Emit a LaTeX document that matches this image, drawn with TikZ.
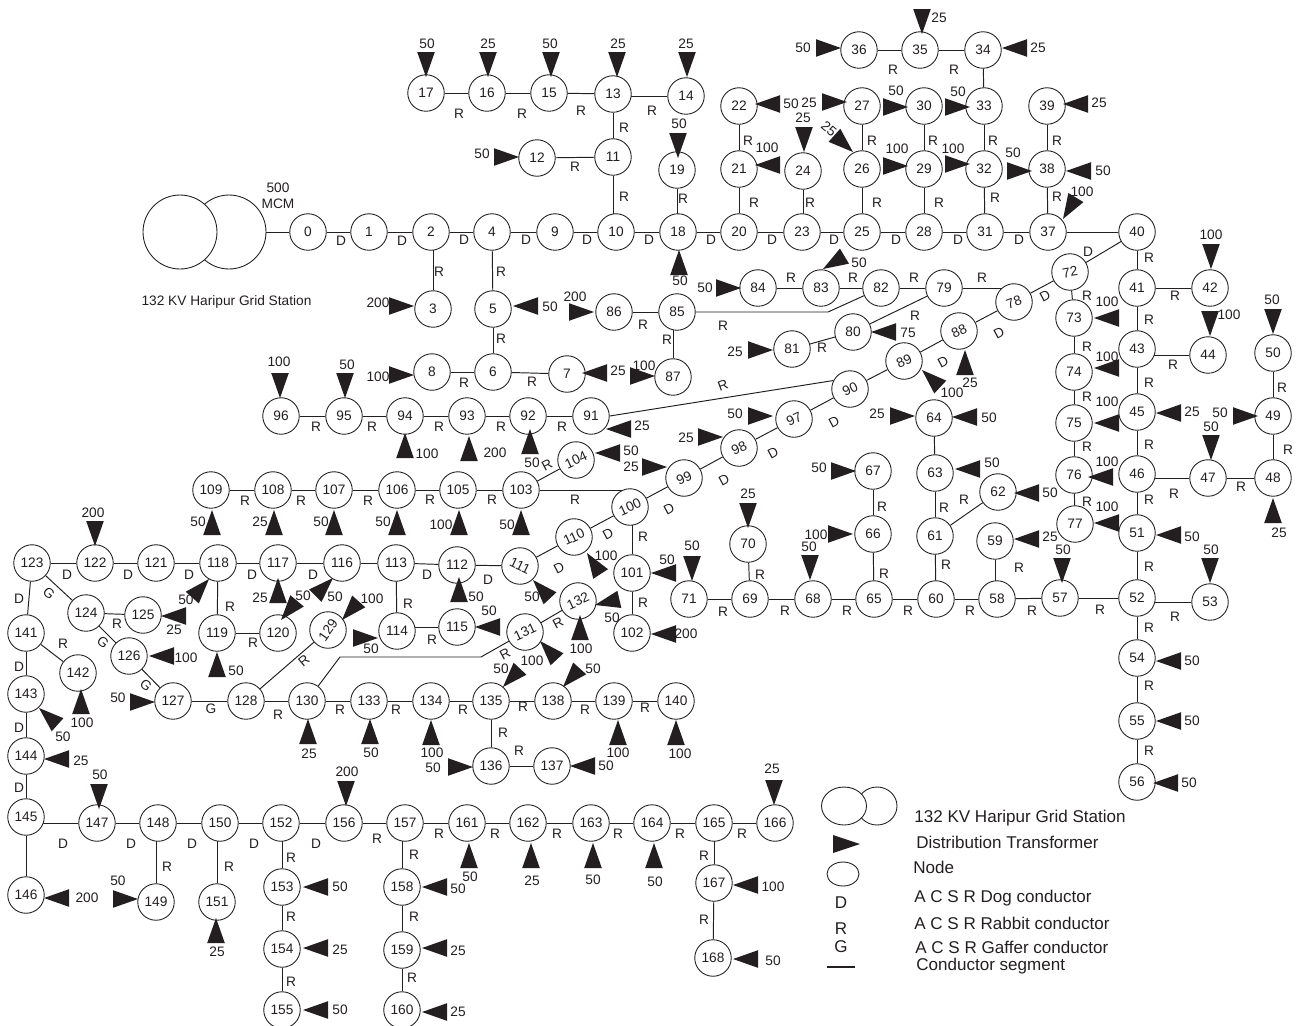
\documentclass[tikz,border=0pt]{standalone}
\usepackage{fontspec}
\setmainfont{Liberation Sans}
\usetikzlibrary{shapes.geometric,backgrounds}
\definecolor{ink}{HTML}{231F20}
\tikzset{
  nd/.style={circle,draw=ink,fill=white,line width=0.5pt,minimum size=0.73cm,inner sep=0pt,text=ink,font=\fontsize{7.8}{9}\selectfont},
  big/.style={circle,draw=ink,fill=white,line width=0.5pt,inner sep=0pt,minimum size=1.48cm},
  edge/.style={draw=ink,line width=0.55pt},
  trf/.style={fill=ink},
  lab/.style={inner sep=0pt,text=ink,font=\fontsize{7.8}{9}\selectfont},
  seg/.style={inner sep=0pt,text=ink,font=\fontsize{7.8}{9}\selectfont},
  legtxt/.style={inner sep=0pt,text=ink,font=\fontsize{9.7}{11}\selectfont},
  leg/.style={legtxt,anchor=west},
  legell/.style={ellipse,draw=ink,fill=white,line width=0.5pt,inner sep=0pt}
}
\begin{document}
\begin{tikzpicture}[x=0.02cm,y=-0.02cm]
\useasboundingbox (0,0) rectangle (1298,1025);
% grid station
\node[big] (gridB) at (229,232) {};
\node[big] (gridA) at (180,232) {};
% plain nodes
\foreach \n/\x/\y in {0/308/232,1/369/232,2/431/232,3/433/309,4/492/232,5/493/309,6/493/372,7/567/374,8/432/372,9/555/232,10/616/232,11/613/157,12/537/158,13/613/94,14/686/96,15/549/93,16/487/93,17/426/93,18/678/232,19/677/170,20/739/232,21/739/169,22/739/106,23/802/232,24/803/171,25/862/232,26/862/169,27/862/106,28/924/232,29/924/169,30/924/106,31/985/232,32/984/169,33/984/106,34/983/50,35/920/50,36/859/50,37/1048/232,38/1047/169,39/1047/106,40/1137/232,41/1137/288,42/1210/288,43/1137/349,44/1208/355,45/1137/412,46/1137/474,47/1208/478,48/1273/478,49/1273/416,50/1273/353,51/1137/533,52/1137/598,53/1210/602,54/1137/658,55/1137/721,56/1137/782,57/1060/598,58/997/599,59/995/541,60/936/599,61/935/536,62/998/492,63/935/473,64/934/418,65/874/599,66/873/534,67/873/471,68/813/599,69/750/599,70/748/544,71/689/599,73/1074/318,74/1074/372,75/1074/423,76/1074/475,77/1075/524,79/944/288,80/853/332,81/792/349,82/881/288,83/821/288,84/758/288,85/677/312,86/614/312,87/673/377,91/591/416,92/528/416,93/467/416,94/405/416,95/344/416,96/281/416,101/632/573,102/632/633,103/521/490,105/458/490,106/397/490,107/334/490,108/273/490,109/211/490,112/457/565,113/396/563,114/397/631,115/457/627,116/342/563,117/278/563,118/218/563,119/217/633,120/278/633,121/156/563,122/95/563,123/32/563,124/86/613,125/143/615,126/129/656,127/173/701,128/246/701,130/307/701,133/369/701,134/431/701,135/491/701,136/491/766,137/552/766,138/553/701,139/614/701,140/676/701,141/26/633,142/78/673,143/26/694,144/26/756,145/26/817,146/26/895,147/97/823,148/158/823,149/156/902,150/220/823,151/217/902,152/281/823,153/282/887,154/282/949,155/282/1010,156/344/823,157/405/823,158/402/887,159/402/950,160/402/1010,161/467/823,162/528/823,163/591/823,164/652/823,165/714/823,166/775/823,167/714/883,168/713/958}
  \node[nd] (n\n) at (\x,\y) {\raisebox{-0.5pt}{\n}};
% nodes whose number is set aslant
\foreach \n/\x/\y/\r in {72/1070/272/10,78/1014/302/20,88/959/331/25,89/904/361/25,90/850/389/25,97/794/419/25,98/739/448/25,99/684/478/25,100/630/507/25,104/576/460/25,110/574/537/25,111/520/566/-25,129/328/630/55,131/525/632/25,132/578/601/25}
  \node[nd,rotate=\r] (n\n) at (\x,\y) {\n};
% connectors
\begin{scope}[on background layer]
\foreach \a/\b in {0/1,1/2,2/4,4/9,9/10,10/18,18/20,20/23,23/25,25/28,28/31,31/37,37/40,5/6,6/7,6/8,11/12,11/13,15/16,16/17,13/15,20/21,21/22,25/26,26/27,28/29,29/30,31/32,32/33,33/34,34/35,35/36,37/38,38/39,40/41,41/42,41/43,43/45,45/46,47/48,48/49,49/50,46/51,51/52,52/54,54/55,55/56,52/57,57/58,58/60,60/61,61/62,61/63,63/64,60/65,65/66,66/67,65/68,68/69,69/70,69/71,40/72,72/73,73/74,74/75,75/76,76/77,72/78,78/88,88/89,89/90,90/97,97/98,98/99,99/100,100/110,110/111,111/112,112/113,113/116,116/117,117/118,118/121,121/122,122/123,123/124,124/125,124/126,126/127,127/128,128/129,128/130,130/133,133/134,134/135,135/138,138/139,139/140,135/136,136/137,118/119,119/120,113/114,123/141,141/142,141/143,143/144,144/145,145/146,147/148,148/150,150/152,152/156,156/157,153/154,154/155,158/159,159/160,157/161,161/162,162/163,163/164,164/165,165/166,167/168,101/102,103/104,103/105,105/106,106/107,107/108,108/109,131/132,91/92,92/93,93/94,94/95,95/96,79/82,82/83,83/84,79/80,80/81,85/86,45/46,4/5}
  \draw[edge] (n\a) -- (n\b);
% connectors that leave the first node off its centre: level with the second node
\foreach \a/\b in {13/14,43/44,46/47,52/53,145/147,114/115}
  \draw[edge] (n\a |- n\b) -- (n\b);
% connectors that leave the first node off its centre: plumb with the second node
\foreach \a/\b in {2/3,10/11,18/19,23/24,85/87,58/59,100/101,148/149,150/151,152/153,157/158,165/167}
  \draw[edge] (n\a -| n\b) -- (n\b);
\coordinate (bend85) at (828,312);
\coordinate (bend130a) at (340,657);
\coordinate (bend130b) at (481,657);
\draw[edge] (n85) -- (bend85) -- (n82);
\draw[edge] (n130) -- (bend130a) -- (bend130b) -- (n131);
\draw[edge] (gridB) -- (n0);
\draw[edge] (n79) -- (n79 -| n78);
\draw[edge] (n103) -- (n103 -| n100);
\draw[edge] (n91.east) -- (n90.128);
\end{scope}
% distribution transformers: apex x/y, direction, label x/y, label
\foreach \x/\y/\a/\lx/\ly/\t in {426/77/270/427/44/50,488/77/270/488/44/25,551/77/270/550/44/50,617/77/270/618/44/25,687/77/270/686/44/25,519/157/0/482/154/50,678/158/270/679/124/50,755/104/180/791/104/50,755/165/180/767/148/100,804/152/270/803/118/25,847/102/0/809/103/25,908/107/0/896/91/50,908/166/0/897/149/100,970/107/0/958/92/50,970/164/0/953/149/100,1002/48/180/1038/48/25,922/34/270/939/18/25,841/48/0/803/48/50,1032/171/0/1013/153/50,1066/171/180/1103/171/50,1063/104/180/1099/103/25,1063/219/239/1082/192/100,1211/269/270/1211/235/100,1210/336/270/1229/315/100,1273/334/270/1272/300/50,1211/460/270/1211/427/50,1258/416/0/1220/413/50,1273/498/90/1279/533/25,1156/413/180/1192/412/25,1156/535/180/1192/537/50,1210/583/270/1211/550/50,1156/661/180/1192/661/50,1156/721/180/1192/721/50,1153/783/180/1189/783/50,1094/318/180/1107/302/100,1094/368/180/1107/357/100,1094/423/180/1107/402/100,1088/477/180/1107/462/100,1094/523/180/1107/507/100,1014/493/180/1050/493/50,1014/539/180/1050/537/25,1062/583/270/1063/550/50,915/416/0/877/414/25,952/417/180/989/418/50,955/469/180/992/463/50,965/350/90/970/383/25,922/370/137/952/393/100,871/332/180/908/333/75,823/269/211/859/263/50,741/288/0/705/288/50,773/350/0/735/352/25,679/250/90/680/281/50,594/312/0/575/297/200,655/376/0/644/366/100,582/373/180/618/371/25,414/306/0/378/303/200,513/306/180/550/307/50,414/375/0/378/377/100,280/398/270/279/362/100,345/398/270/347/365/50,405/433/90/427/454/100,469/436/90/495/453/200,530/429/90/532/463/50,606/429/180/642/426/25,595/453/180/631/451/50,667/467/0/631/467/25,723/437/0/686/438/25,773/416/0/735/414/50,212/510/90/198/522/50,274/510/90/260/522/25,334/510/90/321/522/50,397/510/90/383/522/50,459/510/90/441/525/100,521/510/90/507/525/50,459/577/90/476/597/50,475/627/180/489/611/50,95/546/270/93/513/200,209/579/48/186/600/50,278/578/90/260/598/25,333/578/45/335/597/50,281/620/230/303/596/50,342/620/228/372/599/100,378/638/0/371/649/50,161/616/180/174/630/25,149/656/180/186/658/100,217/652/90/236/671/50,81/689/90/82/723/100,39/708/138/63/737/50,44/759/180/81/761/25,155/702/0/118/698/50,308/719/90/309/754/25,370/719/90/371/753/50,431/720/90/432/753/100,503/687/227/501/669/50,563/687/228/593/669/50,540/641/133/532/661/100,595/605/193/612/618/50,580/615/90/581/649/100,587/553/123/606/556/100,533/580/133/532/597/50,651/573/180/667/560/50,651/634/180/686/634/200,692/581/270/692/546/50,748/528/270/748/494/25,810/580/270/809/547/50,853/534/0/816/535/100,856/471/0/819/468/50,473/767/0/433/768/50,570/766/180/606/766/50,618/720/90/618/753/100,676/720/90/680/754/100,44/898/180/87/898/200,99/809/270/100/775/50,138/899/0/118/881/50,216/918/90/217/952/25,303/887/180/340/887/50,303/948/180/340/950/25,303/1010/180/340/1010/50,346/806/270/347/772/200,422/887/180/458/889/50,422/948/180/458/951/25,422/1012/180/458/1012/25,469/843/90/470/877/50,531/843/90/532/881/25,593/843/90/593/880/50,654/843/90/655/882/50,774/805/270/772/769/25,733/885/180/773/887/100,733/959/180/773/961/50}
{
  \fill[trf,shift={(\x,\y)},rotate=\a] (0,0) -- (-25,8.8) -- (-25,-8.8) -- cycle;
  \node[lab] (t\x-\y) at (\lx,\ly) {\t};
}
\fill[trf,shift={(853,152)},rotate=-42] (0,0) -- (-25,8.8) -- (-25,-8.8) -- cycle;
\node[lab,rotate=-40] (t853-152) at (829,129) {25};
% conductor letters, upright
\foreach \x/\y/\t in {341/241/D,402/241/D,464/240/D,526/240/D,587/240/D,649/240/D,711/240/D,772/240/D,834/240/D,896/240/D,958/240/D,1019/240/D,439/272/R,501/272/R,501/339/R,464/383/R,532/382/R,624/128/R,624/197/R,575/167/R,459/114/R,522/114/R,581/111/R,652/111/R,683/199/R,748/141/R,754/203/R,810/203/R,872/141/R,877/203/R,933/141/R,939/203/R,993/141/R,995/198/R,893/70/R,954/70/R,1057/141/R,1057/197/R,1088/252/D,1149/258/R,1175/296/R,1149/320/R,1173/365/R,1149/383/R,1149/445/R,1149/500/R,1174/494/R,1241/487/R,1282/388/R,1288/450/R,1087/296/R,1087/347/R,1087/397/R,1087/447/R,1087/502/R,1149/567/R,1175/617/R,1149/628/R,1149/686/R,1149/751/R,1100/610/R,1032/611/R,970/611/R,1019/568/R,908/611/R,847/611/R,785/611/R,723/612/R,946/565/R,964/500/R,944/508/R,884/574/R,882/507/R,760/575/R,643/537/R,643/603/R,575/500/R,492/500/R,430/500/R,368/501/R,301/501/R,245/501/R,562/427/R,501/427/R,439/427/R,372/427/R,316/427/R,723/326/R,667/340/R,643/325/R,791/278/R,853/278/R,914/278/R,982/278/R,915/316/R,822/348/R,488/580/D,67/575/D,128/575/D,189/575/D,252/575/D,313/575/D,427/575/D,19/599/D,117/624/R,230/607/R,408/604/R,253/643/R,19/667/D,63/644/R,211/709/G,278/715/R,340/710/R,396/710/R,19/728/D,432/640/R,463/710/R,523/707/R,585/710/R,645/708/R,503/733/R,519/751/R,19/788/D,63/844/D,131/844/D,167/867/R,192/844/D,229/867/R,254/844/D,291/858/R,291/917/R,291/982/R,316/844/D,377/839/R,414/855/R,414/917/R,412/978/R,439/834/R,495/834/R,557/834/R,618/834/R,680/834/R,742/834/R,704/856/R,704/920/R}
  \node[seg] (c\x-\y) at (\x,\y) {\t};
% conductor letters, aslant
\foreach \x/\y/\r/\t in {1045/296/28/D,999/333/28/D,943/362/28/D,834/422/28/D,773/453/28/D,724/480/28/D,669/509/28/D,608/534/28/D,559/568/28/D,723/385/20/R,547/465/28/R,49/593/-40/G,103/642/-40/G,146/685/-40/G,304/661/40/R,558/623/28/R,505/654/28/R}
  \node[seg,rotate=\r] (c\x-\y) at (\x,\y) {\t};
% station captions
\node[lab] (mcmA) at (278,188) {500};
\node[lab] (mcmB) at (278,204) {MCM};
\node[lab] (stationcap) at (226.5,302) {132 KV Haripur Grid Station};
% legend
\node[legell,minimum width=0.8cm,minimum height=0.76cm] (legB) at (877,806) {};
\node[legell,minimum width=0.9cm,minimum height=0.76cm] (legA) at (844,806) {};
\fill[trf] (860,844) -- (833,835) -- (833,853) -- cycle;
\node[legell,minimum width=0.64cm,minimum height=0.48cm] (legN) at (843,874) {};
\node[legtxt] (legD) at (841,903) {D};
\node[legtxt] (legR) at (841,929) {R};
\node[legtxt] (legG) at (841,947) {G};
\coordinate (legLa) at (827,967);
\coordinate (legLb) at (855,967);
\draw[edge,line width=0.8pt] (legLa) -- (legLb);
\node[leg] (t1) at (914,818) {132 KV Haripur Grid Station};
\node[leg] (t2) at (916,842) {Distribution Transformer};
\node[leg] (t3) at (913,867) {Node};
\node[leg] (t4) at (914,898) {A C S R Dog conductor};
\node[leg] (t5) at (914,923) {A C S R Rabbit conductor};
\node[leg] (t6) at (915,947) {A C S R Gaffer conductor};
\node[leg] (t7) at (916,966) {Conductor segment};
\end{tikzpicture}
\end{document}
